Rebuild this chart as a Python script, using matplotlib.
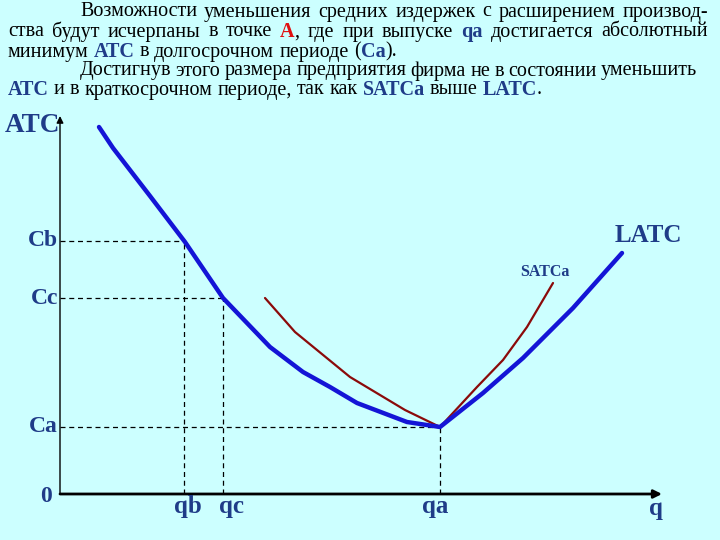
import matplotlib
matplotlib.use('Agg')
import matplotlib.pyplot as plt

# ── Data (q, ATC) ────────────────────────────────────────────────────────────
latc_q = [39, 53, 90, 125, 163, 210, 243, 270, 297, 347, 380, 423, 463, 513, 562]
latc_c = [367, 346, 298, 252, 196, 147, 122, 107, 91, 72, 67, 101, 136, 186, 241]

satc_q = [205, 235, 290, 345, 380, 417, 443, 467, 493]
satc_c = [196, 162, 117, 84, 67, 107, 134, 167, 211]

guide_names = ['Cb', 'Cc', 'Ca']
guide_q     = [124, 163, 380]
guide_c     = [253, 196, 67]
q_labels    = ['qb', 'qc', 'qa']

BG    = '#CCFFFF'
NAVY  = '#1F3C88'
BLUE  = '#1414D6'
DRED  = '#8B0A0A'
RED   = '#E01010'
SERIF = ['Liberation Serif', 'DejaVu Serif']

# ── Top paragraph: tokens of (text, style) pieces ────────────────────────────
STYLES = {
    'n': dict(color='black', fontweight='normal'),
    'b': dict(color=NAVY, fontweight='bold'),
    'r': dict(color=RED, fontweight='bold'),
}


def words(s):
    return [[(w, 'n')] for w in s.split()]


lines = [
    (80, 708, words('Возможности уменьшения средних издержек с расширением производ-')),
    (8, 708, words('ства будут исчерпаны в точке') + [[('A', 'r'), (',', 'n')]]
     + words('где при выпуске') + [[('qa', 'b')]] + words('достигается абсолютный')),
    (8, None, words('минимум') + [[('ATC', 'b')]] + words('в долгосрочном периоде')
     + [[('(', 'n'), ('Ca', 'b'), (').', 'n')]]),
    (80, 697, words('Достигнув этого размера предприятия фирма не в состоянии уменьшить')),
    (8, None, [[('ATC', 'b')]] + words('и в краткосрочном периоде, так как')
     + [[('SATCa', 'b')]] + words('выше') + [[('LATC', 'b'), ('.', 'n')]]),
]
line_y = [12, 32, 52, 71, 90]
FS_TEXT = 14.5

fig = plt.figure(figsize=(7.2, 5.4), dpi=100, facecolor=BG)
renderer = fig.canvas.get_renderer()
W, H = 720, 540


def put(x, y, s, style):
    t = fig.text(x / W, 1 - y / H, s, fontsize=FS_TEXT, family=SERIF,
                 ha='left', va='center', **STYLES[style])
    return t, t.get_window_extent(renderer).width


def token_width(tok):
    total = 0
    for s, st in tok:
        t, w = put(0, -100, s, st)
        t.remove()
        total += w
    return total


sp_a = fig.text(0, 0, 'a a', fontsize=FS_TEXT, family=SERIF)
sp_b = fig.text(0, 0, 'aa', fontsize=FS_TEXT, family=SERIF)
space_w = sp_a.get_window_extent(renderer).width - sp_b.get_window_extent(renderer).width
sp_a.remove(); sp_b.remove()

for (x0, x1, toks), y in zip(lines, line_y):
    widths = [token_width(t) for t in toks]
    if x1 is None:
        gap = space_w
    else:
        gap = (x1 - x0 - sum(widths)) / (len(toks) - 1)
    x = x0
    for tok, tw in zip(toks, widths):
        xx = x
        for s, st in tok:
            _, w = put(xx, y, s, st)
            xx += w
        x += tw + gap

# ── Chart ────────────────────────────────────────────────────────────────────
ax = fig.add_axes([60 / W, (H - 494) / H, 600 / W, 376 / H])
ax.set_xlim(0, 600)
ax.set_ylim(0, 376)
ax.set_facecolor('none')
for sp in ax.spines.values():
    sp.set_visible(False)
ax.set_xticks([]); ax.set_yticks([])

# axes with arrows
ax.annotate('', xy=(602, 0), xytext=(0, 0), annotation_clip=False,
            arrowprops=dict(arrowstyle='-|>', color='black', lw=2,
                            mutation_scale=12, shrinkA=0, shrinkB=0))
ax.annotate('', xy=(0, 378), xytext=(0, 0), annotation_clip=False,
            arrowprops=dict(arrowstyle='-|>', color='black', lw=1,
                            mutation_scale=10, shrinkA=0, shrinkB=0))

# dashed guides
for name, gq, gc in zip(guide_names, guide_q, guide_c):
    ax.plot([0, gq], [gc, gc], color='black', lw=0.9, ls=(0, (4, 3)))
    ax.plot([gq, gq], [0, gc], color='black', lw=0.9, ls=(0, (4, 3)))
    ax.text(-2, gc, name, ha='right', va='center', fontsize=17,
            fontweight='bold', color=NAVY, family=SERIF, clip_on=False)

q_pos = [128, 172, 375]
for ql, qp in zip(q_labels, q_pos):
    ax.text(qp, -12, ql, ha='center', va='center', fontsize=18,
            fontweight='bold', color=NAVY, family=SERIF, clip_on=False)
ax.text(596, -15, 'q', ha='center', va='center', fontsize=18,
        fontweight='bold', color=NAVY, family=SERIF, clip_on=False)
ax.text(-8, -2, '0', ha='right', va='center', fontsize=17,
        fontweight='bold', color=NAVY, family=SERIF, clip_on=False)
ax.text(-55, 368, 'ATC', ha='left', va='center', fontsize=19.5,
        fontweight='bold', color=NAVY, family=SERIF, clip_on=False)

# curves
ax.plot(satc_q, satc_c, color=DRED, lw=1.6, solid_capstyle='round', zorder=3)
ax.plot(latc_q, latc_c, color=BLUE, lw=3.2, solid_capstyle='round',
        solid_joinstyle='round', zorder=4)

ax.text(555, 259, 'LATC', ha='left', va='center', fontsize=18,
        fontweight='bold', color=NAVY, family=SERIF, clip_on=False)
ax.text(460, 222, 'SATCa', ha='left', va='center', fontsize=11.5,
        fontweight='bold', color=NAVY, family=SERIF, clip_on=False)

fig.savefig('out.png', dpi=100, facecolor=BG)
